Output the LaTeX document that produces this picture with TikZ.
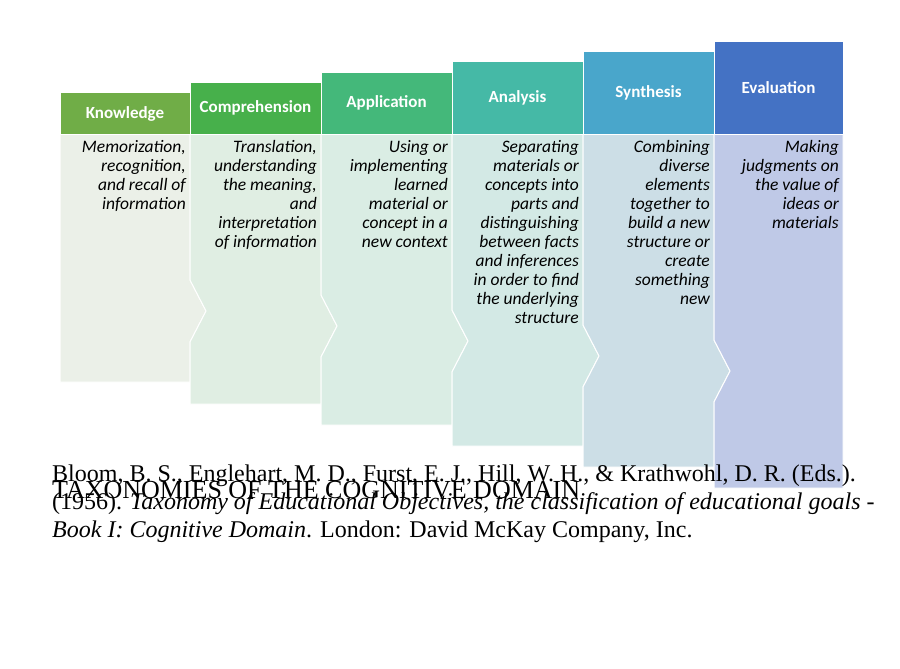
\documentclass[tikz,border=0pt]{standalone}
\usepackage{fontspec}
\setmainfont{Liberation Serif}
\newfontfamily\carlitofont{Carlito}
\begin{document}
\begin{tikzpicture}[x=1pt,y=-1pt,
 hdr/.style={draw=white,line width=1pt},
 bod/.style={draw=white,line width=1pt},
 htxt/.style={font=\carlitofont\bfseries\fontsize{17}{19}\selectfont,text=white},
 btxt/.style={font=\carlitofont\itshape\fontsize{17.5}{19}\selectfont,align=right,anchor=north east,inner sep=0pt}]
\fill[white] (0,0) rectangle (900,669);
\useasboundingbox (0,0) rectangle (900,669);
\definecolor{h1}{HTML}{70AD47}\definecolor{b1}{HTML}{EBF0E8}
\definecolor{h2}{HTML}{47B04B}\definecolor{b2}{HTML}{E0EEE3}
\definecolor{h3}{HTML}{44B87A}\definecolor{b3}{HTML}{DAEDE4}
\definecolor{h4}{HTML}{45B9A6}\definecolor{b4}{HTML}{D3E9E5}
\definecolor{h5}{HTML}{49A6CB}\definecolor{b5}{HTML}{CCDEE6}
\definecolor{h6}{HTML}{4472C4}\definecolor{b6}{HTML}{BFC9E7}
% bodies
\path[bod,fill=b1] (60,134)--(190,134)--(190,280)--(206,311)--(190,342)--(190,382)--(60,382)--cycle;
\path[bod,fill=b2] (190,134)--(321,134)--(321,295)--(337,326)--(321,357)--(321,404)--(190,404)--(190,342)--(206,311)--(190,280)--cycle;
\path[bod,fill=b3] (321,134)--(452,134)--(452,310)--(468,341)--(452,372)--(452,425)--(321,425)--(321,357)--(337,326)--(321,295)--cycle;
\path[bod,fill=b4] (452,134)--(583,134)--(583,325)--(599,356)--(583,387)--(583,446)--(452,446)--(452,372)--(468,341)--(452,310)--cycle;
\path[bod,fill=b5] (583,134)--(714,134)--(714,340)--(730,371)--(714,402)--(714,467)--(583,467)--(583,387)--(599,356)--(583,325)--cycle;
\path[bod,fill=b6] (714,134)--(843,134)--(843,488)--(714,488)--(714,402)--(730,371)--(714,340)--cycle;
% headers
\path[hdr,fill=h1] (60,93) rectangle (190,134); \node[htxt] (k) at (125,114) {Knowledge};
\path[hdr,fill=h2] (190,83) rectangle (321,134); \node[htxt] (c) at (255.5,108) {Comprehension};
\path[hdr,fill=h3] (321,73) rectangle (452,134); \node[htxt] (a) at (386.5,103) {Application};
\path[hdr,fill=h4] (452,62) rectangle (583,134); \node[htxt] (an) at (517.5,98) {Analysis};
\path[hdr,fill=h5] (583,52) rectangle (714,134); \node[htxt] (s) at (648.5,93) {Synthesis};
\path[hdr,fill=h6] (714,42) rectangle (843,134); \node[htxt] (e) at (778.5,88) {Evaluation};
% body texts
\node[btxt] (t1) at (186,140) {Memorization,\\recognition,\\and recall of\\information};
\node[btxt] (t2) at (317,140) {Translation,\\understanding\\the meaning,\\and\\interpretation\\of information};
\node[btxt] (t3) at (448,140) {Using or\\implementing\\learned\\material or\\concept in a\\new context};
\node[btxt] (t4) at (579,140) {Separating\\materials or\\concepts into\\parts and\\distinguishing\\between facts\\and inferences\\in order to find\\the underlying\\structure};
\node[btxt] (t5) at (710,140) {Combining\\diverse\\elements\\together to\\build a new\\structure or\\create\\something\\new};
\node[btxt] (t6) at (839,140) {Making\\judgments on\\the value of\\ideas or\\materials};
% bottom text
\node[anchor=base west,inner sep=0pt,font=\fontsize{26}{30}\selectfont] (title) at (52,498) {TAXONOMIES OF THE COGNITIVE DOMAIN};
\node[anchor=base west,inner sep=0pt,align=left,font=\fontsize{24}{28}\selectfont] (cite) at (52,537)
 {Bloom, B. S., Englehart, M. D., Furst, E. J., Hill, W. H., \& Krathwohl, D. R. (Eds.).\\
 (1956). \textit{Taxonomy of Educational Objectives, the classification of educational goals -}\\
 \textit{Book I: Cognitive Domain}. London: David McKay Company, Inc.};
\end{tikzpicture}
\end{document}
